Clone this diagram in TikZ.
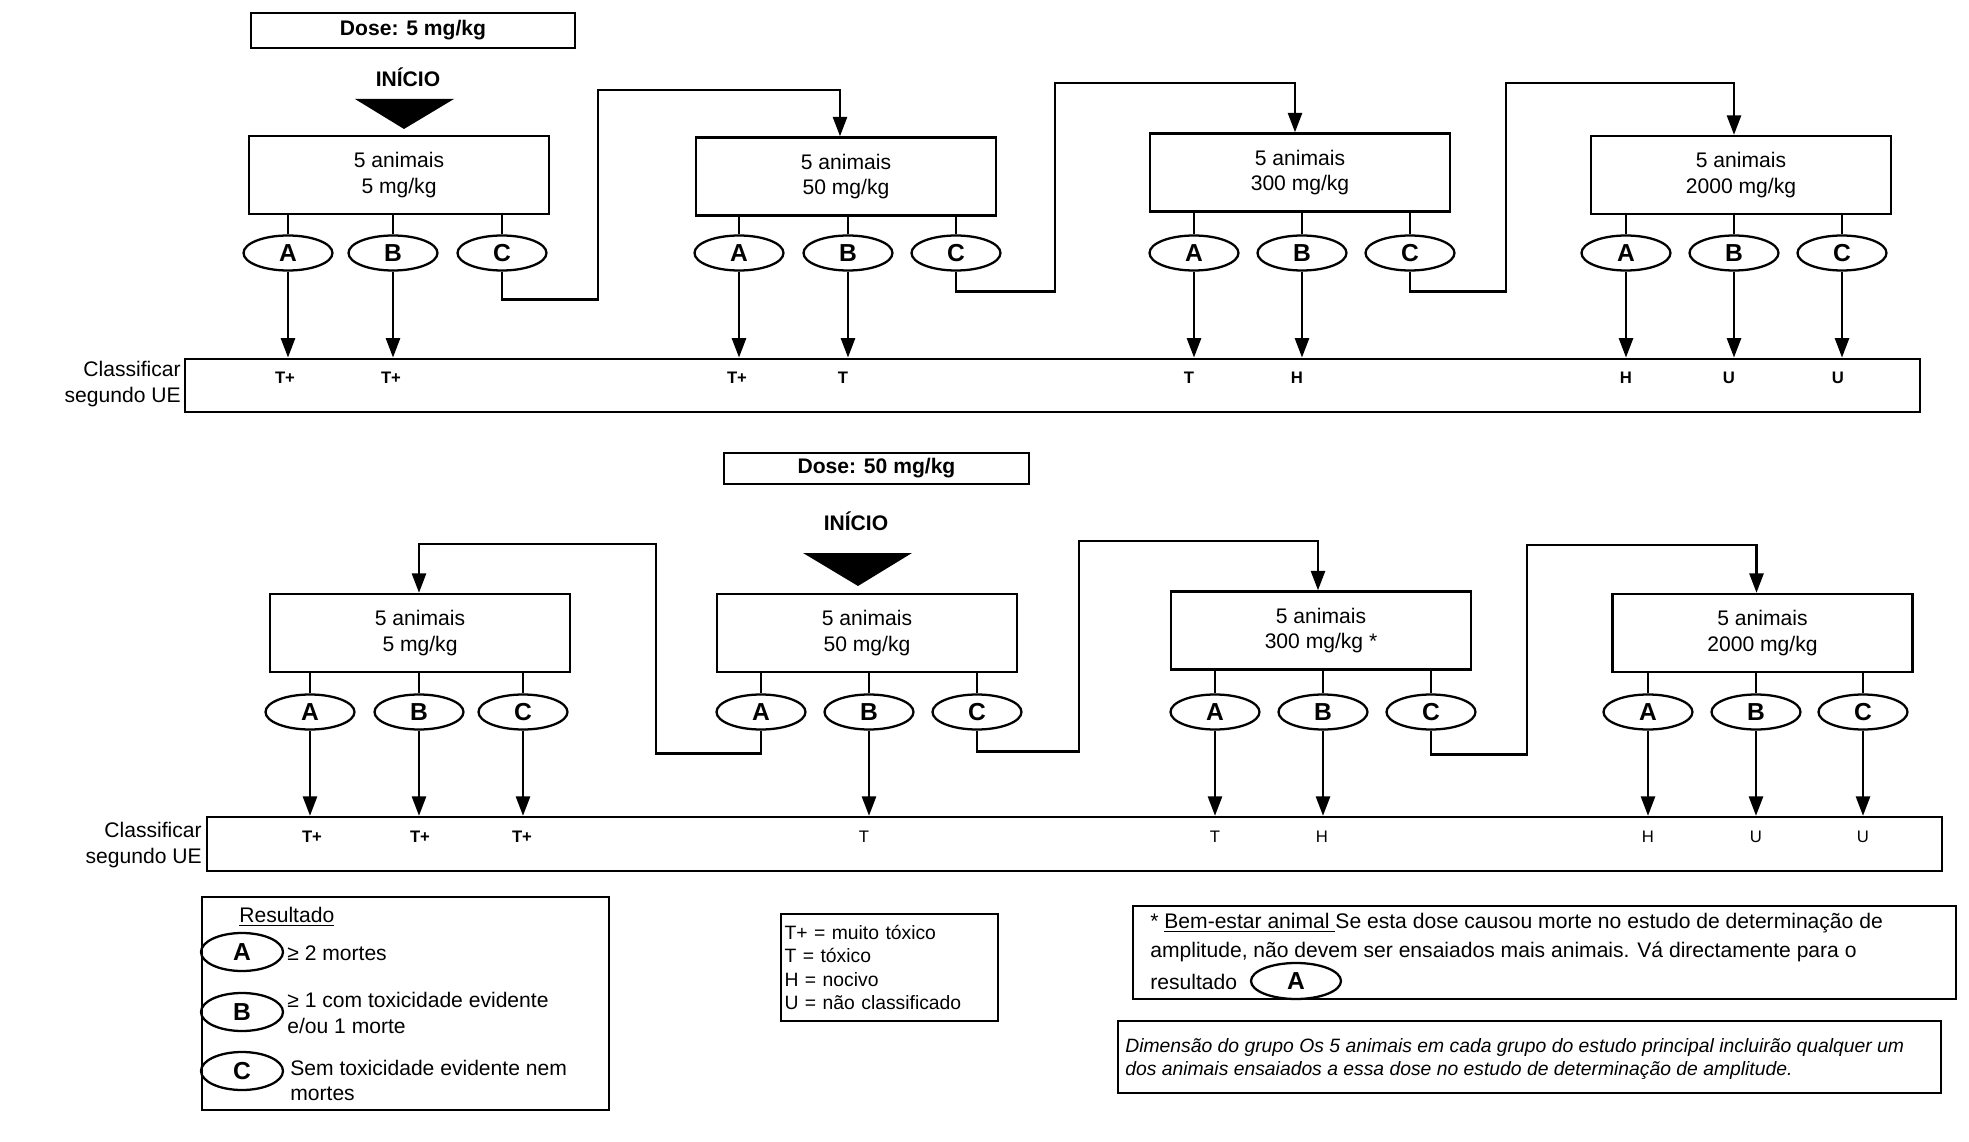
\documentclass[tikz,border=0pt]{standalone}
\usepackage{fontspec}
\setmainfont{Liberation Sans}
\usetikzlibrary{shapes.geometric,arrows.meta,calc}
\begin{document}
\begin{tikzpicture}[x=0.02cm,y=-0.02cm,
 animbox/.style={draw,line width=1.4pt,minimum width=6cm,minimum height=1.56cm,align=center,font=\fontsize{12}{14.7}\selectfont,inner sep=0pt},
 res/.style={draw,ellipse,line width=1.3pt,minimum width=1.78cm,minimum height=0.7cm,inner sep=0pt,font=\fontsize{14}{14}\selectfont\bfseries},
 legres/.style={draw,ellipse,line width=1.3pt,minimum width=1.64cm,minimum height=0.76cm,inner sep=0pt,font=\fontsize{14}{14}\selectfont\bfseries},
 clsbox/.style={draw,line width=1.4pt,minimum width=34.7cm,minimum height=1.07cm,inner sep=0pt},
 cls/.style={font=\fontsize{9.5}{9.5}\selectfont\bfseries,inner sep=0pt},
 clsr/.style={font=\fontsize{9.5}{9.5}\selectfont,inner sep=0pt},
 arr/.style={line width=1.3pt,-{Triangle[length=11pt,width=8pt]}},
 ln/.style={line width=1.3pt},
 dosebox/.style={draw,line width=1.4pt,inner sep=0pt,font=\fontsize{12}{12}\selectfont\bfseries},
 inicio/.style={font=\fontsize{12}{12}\selectfont\bfseries,inner sep=0pt},
 side/.style={anchor=east,align=right,font=\fontsize{12}{15.3}\selectfont,inner sep=0pt},
 txt/.style={anchor=west,align=left,inner sep=0pt,font=\fontsize{12}{14.7}\selectfont},
 frame/.style={draw,line width=1.2pt,anchor=north west,inner sep=0pt},
]
\useasboundingbox (0,0) rectangle (1969,1142);

% ===================== TOP: Dose 5 mg/kg =====================
\node[dosebox,minimum width=6.48cm,minimum height=0.7cm] (dose1) at (413,30.5) {Dose: 5 mg/kg};
\node[inicio] (ini1) at (408,77) {INÍCIO};
\fill (355,99) -- (454,99) -- (404,129) -- cycle;

\node[animbox] (b1) at (399,175) {5 animais\\5 mg/kg};
\node[animbox] (b2) at (846,176.5) {5 animais\\50 mg/kg};
\node[animbox] (b3) at (1300,172.5) {5 animais\\300 mg/kg};
\node[animbox] (b4) at (1741,175) {5 animais\\2000 mg/kg};

\node[res] (a1) at (288,253) {A};
\node[res] (bb1) at (393,253) {B};
\node[res] (c1) at (502,253) {C};
\node[res] (a2) at (739,253) {A};
\node[res] (bb2) at (848,253) {B};
\node[res] (c2) at (956,253) {C};
\node[res] (a3) at (1194,253) {A};
\node[res] (bb3) at (1302,253) {B};
\node[res] (c3) at (1410,253) {C};
\node[res] (a4) at (1626,253) {A};
\node[res] (bb4) at (1734,253) {B};
\node[res] (c4) at (1842,253) {C};

\foreach \e/\b in {a1/b1,bb1/b1,c1/b1,a2/b2,bb2/b2,c2/b2,a3/b3,bb3/b3,c3/b3,a4/b4,bb4/b4,c4/b4}
  \draw[ln] (\e.north) -- (\e.north |- \b.south);

\node[clsbox] (k1) at (1052.5,385.5) {};
\node[side] (s1) at (181,384) {Classificar\\segundo UE};

\foreach \e in {a1,bb1,a2,bb2,a3,bb3,a4,bb4,c4}
  \draw[arr] (\e.south) -- (\e.south |- k1.north);

\node[cls] (t11) at (285,378) {T+};
\node[cls] (t12) at (391,378) {T+};
\node[cls] (t13) at (737,378) {T+};
\node[cls] (t14) at (843,378) {T};
\node[cls] (t15) at (1189,378) {T};
\node[cls] (t16) at (1297,378) {H};
\node[cls] (t17) at (1626,378) {H};
\node[cls] (t18) at (1729,378) {U};
\node[cls] (t19) at (1838,378) {U};

\draw[arr] (c1.south) -- ++(0,28) -| (598,90) -| ($(b2.north)+(-6,0)$);
\draw[arr] (c2.south) -- ++(0,20) -| (1055,83) -| ($(b3.north)+(-5,0)$);
\draw[arr] (c3.south) -- ++(0,20) -| (1506,83) -| ($(b4.north)+(-7,0)$);

% ===================== BOTTOM: Dose 50 mg/kg =====================
\node[dosebox,minimum width=6.1cm,minimum height=0.62cm] (dose2) at (876.5,468.5) {Dose: 50 mg/kg};
\node[inicio] (ini2) at (856,521) {INÍCIO};
\fill (803,553) -- (912,553) -- (858,586) -- cycle;

\node[animbox] (d1) at (420,633) {5 animais\\5 mg/kg};
\node[animbox] (d2) at (867,633) {5 animais\\50 mg/kg};
\node[animbox] (d3) at (1321,630.5) {5 animais\\300 mg/kg *};
\node[animbox] (d4) at (1762.5,633) {5 animais\\2000 mg/kg};

\node[res] (e1) at (310,712) {A};
\node[res] (f1) at (419,712) {B};
\node[res] (g1) at (523,712) {C};
\node[res] (e2) at (761,712) {A};
\node[res] (f2) at (869,712) {B};
\node[res] (g2) at (977,712) {C};
\node[res] (e3) at (1215,712) {A};
\node[res] (f3) at (1323,712) {B};
\node[res] (g3) at (1431,712) {C};
\node[res] (e4) at (1648,712) {A};
\node[res] (f4) at (1756,712) {B};
\node[res] (g4) at (1863,712) {C};

\foreach \e/\b in {e1/d1,f1/d1,g1/d1,e2/d2,f2/d2,g2/d2,e3/d3,f3/d3,g3/d3,e4/d4,f4/d4,g4/d4}
  \draw[ln] (\e.north) -- (\e.north |- \b.south);

\node[clsbox,minimum height=1.08cm] (k2) at (1074.5,844) {};
\node[side] (s2) at (202,845) {Classificar\\segundo UE};

\foreach \e in {e1,f1,g1,f2,e3,f3,e4,f4,g4}
  \draw[arr] (\e.south) -- (\e.south |- k2.north);

\node[cls] (u11) at (312,837) {T+};
\node[cls] (u12) at (420,837) {T+};
\node[cls] (u13) at (522,837) {T+};
\node[clsr] (u14) at (864,837) {T};
\node[clsr] (u15) at (1215,837) {T};
\node[clsr] (u16) at (1322,837) {H};
\node[clsr] (u17) at (1648,837) {H};
\node[clsr] (u18) at (1756,837) {U};
\node[clsr] (u19) at (1863,837) {U};

\draw[arr] (e2.south) -- ++(0,23) -| (656,544) -| ($(d1.north)+(-1,0)$);
\draw[arr] (g2.south) -- ++(0,21) -| (1079,541) -| ($(d3.north)+(-3,0)$);
\draw[arr] (g3.south) -- ++(0,24) -| (1527,545) -| ($(d4.north)+(-6,0)$);

% ===================== LEGENDS =====================
\node[frame,minimum width=8.14cm,minimum height=4.26cm] (leg) at (201,896) {};
\node[txt] (resl) at (239,917) {\underline{Resultado}};
\node[legres] (la) at (242,952) {A};
\node[legres] (lb) at (242,1012) {B};
\node[legres] (lc) at (242,1071) {C};
\node[txt] (lat) at (287,953) {≥ 2 mortes};
\node[txt] (lbt) at (287,1013) {≥ 1 com toxicidade evidente\\e/ou 1 morte};
\node[txt] (lct) at (290,1080.5) {Sem toxicidade evidente nem\\mortes};

\node[frame,minimum width=4.34cm,minimum height=2.14cm,text width=4.2cm,align=left,inner xsep=0.07cm,font=\fontsize{11}{13.2}\selectfont] (abbr) at (780,913) {T+ = muito tóxico\\T = tóxico\\H = nocivo\\U = não classificado};

\node[frame,minimum width=16.46cm,minimum height=1.86cm] (bem) at (1132,905) {};
\node[txt] (bem1) at (1150,923) {* \underline{Bem-estar animal\ }Se esta dose causou morte no estudo de determinação de};
\node[txt] (bem2) at (1150,952) {amplitude, não devem ser ensaiados mais animais. Vá directamente para o};
\node[txt] (bem3) at (1150,982) {resultado};
\node[res,minimum width=1.8cm,minimum height=0.72cm] (bemA) at (1296,981) {A};

\node[frame,minimum width=16.46cm,minimum height=1.44cm] (dim) at (1117,1020) {};
\node[txt,font=\fontsize{11}{11}\selectfont\itshape] (dim1) at (1125,1047) {Dimensão do grupo Os 5 animais em cada grupo do estudo principal incluirão qualquer um};
\node[txt,font=\fontsize{11}{11}\selectfont\itshape] (dim2) at (1125,1070) {dos animais ensaiados a essa dose no estudo de determinação de amplitude.};
\end{tikzpicture}
\end{document}
